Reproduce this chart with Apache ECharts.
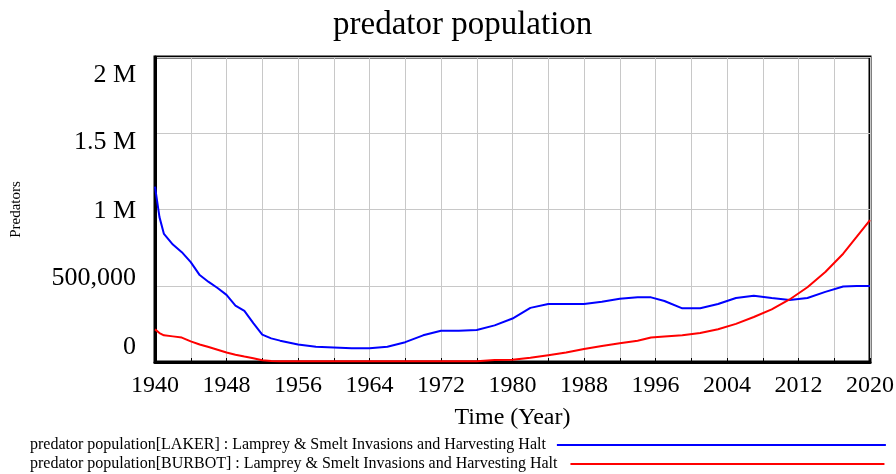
<!DOCTYPE html>
<html>
<head>
<meta charset="utf-8">
<script src="https://cdn.jsdelivr.net/npm/echarts@6/dist/echarts.min.js"></script>
<style>
    html, body { margin: 0; padding: 0; background: #fff; }
    #chart { width: 896px; height: 474px; }
</style>
</head>
<body>
<div id="chart"></div>
<script>
// sample years shared by both series
const years = [1940, 1940.5, 1941, 1942, 1943, 1944, 1945, 1946, 1947, 1948, 1949, 1950, 1951, 1952, 1953, 1954,
    1956, 1958, 1960, 1962, 1964, 1966, 1968, 1970, 1972, 1974, 1976, 1978, 1980, 1982, 1984, 1986, 1988,
    1990, 1992, 1994, 1995.5, 1997, 1999, 2001, 2003, 2005, 2007, 2009, 2011, 2013, 2015, 2017, 2018.5, 2020];

const laker = [1150000, 950000, 840000, 770000, 720000, 655000, 570000, 525000, 485000, 440000, 370000, 335000, 255000, 180000, 155000, 140000,
    115000, 100000, 95000, 90000, 90000, 100000, 130000, 175000, 205000, 205000, 210000, 240000, 285000, 355000, 380000, 380000, 380000,
    395000, 415000, 424000, 424000, 400000, 352000, 352000, 380000, 420000, 435000, 420000, 407000, 420000, 460000, 495000, 498000, 498000];

const burbot = [214000, 190000, 175000, 168000, 160000, 135000, 115000, 98000, 80000, 62000, 48000, 36000, 25000, 12000, 7000, 5000,
    5000, 5000, 5000, 5000, 5000, 5000, 5000, 5000, 5000, 5000, 5000, 13000, 14000, 28000, 45000, 62000, 85000,
    105000, 123000, 140000, 160000, 168000, 175000, 190000, 215000, 250000, 295000, 345000, 410000, 490000, 590000, 710000, 820000, 931000];

const yTickValues = [0, 500000, 1000000, 1500000, 2000000];
const yTickLabels = ["0", "500,000", "1 M", "1.5 M", "2 M"];

const lakerName = "predator population[LAKER] : Lamprey & Smelt Invasions and Harvesting Halt";
const burbotName = "predator population[BURBOT] : Lamprey & Smelt Invasions and Harvesting Halt";

const serif = "Liberation Serif";

const chart = echarts.init(document.getElementById("chart"));

// Vensim places the y labels a bit off the grid lines
const yLab = (pad) => ({ fontFamily: serif, fontSize: 26, color: "#000", padding: pad });
const rich = {
    y0: yLab([0, 0, 30, 0]),
    y1: yLab([0, 0, 16, 0]),
    y2: yLab([3, 0, 0, 0]),
    y3: yLab([17, 0, 0, 0]),
    y4: yLab([36, 0, 0, 0]),
};

chart.setOption({
    animation: false,
    title: {
        text: "predator population",
        left: 328,
        top: 4,
        textStyle: { fontFamily: serif, fontSize: 33, fontWeight: "normal", color: "#000" },
    },
    legend: [
        {
            data: [lakerName],
            left: 30,
            top: 437,
            padding: 0,
            align: "right",
            icon: "rect",
            itemWidth: 329,
            itemHeight: 2,
            textStyle: { fontFamily: serif, fontSize: 16, color: "#000", padding: [0, 6, 0, 0] },
        },
        {
            data: [burbotName],
            left: 30,
            top: 456,
            padding: 0,
            align: "right",
            icon: "rect",
            itemWidth: 314,
            itemHeight: 2,
            textStyle: { fontFamily: serif, fontSize: 16, color: "#000", padding: [0, 8, 0, 0] },
        },
    ],
    grid: {
        left: 155,
        right: 26,
        top: 57,
        bottom: 112,
        outerBoundsMode: "none",
        show: true,
        borderColor: "#000",
        borderWidth: 3,
    },
    xAxis: {
        type: "value",
        min: 1940,
        max: 2020,
        interval: 4,
        name: "Time (Year)",
        nameLocation: "middle",
        nameGap: 44,
        nameTextStyle: { fontFamily: serif, fontSize: 24, color: "#000" },
        axisLine: { lineStyle: { color: "#000", width: 3 } },
        axisTick: { inside: true, length: 4, lineStyle: { color: "#000" } },
        axisLabel: {
            fontFamily: serif,
            fontSize: 24,
            color: "#000",
            margin: 12,
            formatter: (v) => ((v - 1940) % 8 === 0 ? String(v) : ""),
        },
        splitLine: { lineStyle: { color: "#c8c8c8", width: 1 } },
    },
    yAxis: {
        type: "value",
        min: 0,
        max: 2000000,
        interval: 500000,
        name: "Predators",
        nameLocation: "middle",
        nameGap: 131,
        nameTextStyle: { fontFamily: serif, fontSize: 15, color: "#000" },
        axisLine: { show: true, lineStyle: { color: "#000", width: 3 } },
        axisTick: { show: false },
        axisLabel: {
            margin: 19,
            formatter: (v) => {
                const i = yTickValues.indexOf(v);
                return "{y" + i + "|" + yTickLabels[i] + "}";
            },
            rich: rich,
        },
        splitLine: { lineStyle: { color: "#c8c8c8", width: 1 } },
    },
    series: [
        {
            name: lakerName,
            type: "line",
            showSymbol: false,
            color: "#0000ff",
            lineStyle: { width: 2 },
            data: years.map((y, i) => [y, laker[i]]),
        },
        {
            name: burbotName,
            type: "line",
            showSymbol: false,
            color: "#ff0000",
            lineStyle: { width: 2 },
            data: years.map((y, i) => [y, burbot[i]]),
        },
    ],
});
</script>
</body>
</html>
